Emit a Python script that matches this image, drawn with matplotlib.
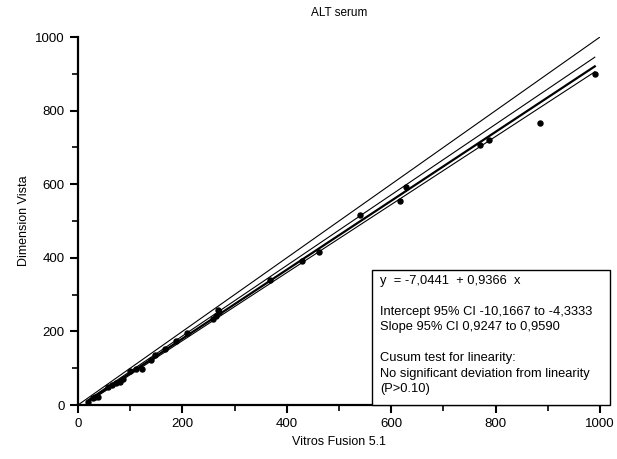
import matplotlib.pyplot as plt
from matplotlib.ticker import MultipleLocator
from matplotlib.patches import Rectangle
import numpy as np

plt.rcParams['font.family'] = ['Liberation Sans', 'DejaVu Sans']

# Vitros Fusion 5.1 vs Dimension Vista (ALT serum)
vitros = [20, 28, 33, 39, 58, 65, 72, 80, 87, 100, 112, 122, 139, 147, 167,
          188, 208, 259, 265, 268, 271, 368, 429, 462, 541, 616, 628, 770,
          787, 885, 990]
vista = [9, 20, 22, 23, 50, 55, 59, 63, 70, 93, 97, 98, 122, 136, 151,
         173, 196, 235, 242, 258, 254, 341, 391, 416, 515, 554, 592, 706,
         720, 765, 899]

intercept = -7.0441
slope = 0.9366
ci_low = (-10.1667, 0.9247)
ci_high = (-4.3333, 0.9590)

legend_txt = ('y  = -7,0441  + 0,9366  x\n\n'
              'Intercept 95% CI -10,1667 to -4,3333\n'
              'Slope 95% CI 0,9247 to 0,9590\n\n'
              'Cusum test for linearity:\n'
              'No significant deviation from linearity\n'
              '(P>0.10)')

fig = plt.figure(figsize=(6.17, 4.59), dpi=100)
ax = fig.add_axes([78/617, 54/459, 522/617, 368/459])

xs = np.array([min(vitros), max(vitros)])
ax.plot([0, 1000], [0, 1000], color='black', lw=0.8)
ax.plot(xs, ci_high[0] + ci_high[1]*xs, color='black', lw=0.8)
ax.plot(xs, ci_low[0] + ci_low[1]*xs, color='black', lw=0.8)
ax.plot(xs, intercept + slope*xs, color='black', lw=1.6)
ax.plot(vitros, vista, 'o', color='black', ms=3.6)

ax.set_xlim(0, 1000)
ax.set_ylim(0, 1000)
ax.xaxis.set_major_locator(MultipleLocator(200))
ax.yaxis.set_major_locator(MultipleLocator(200))
ax.xaxis.set_minor_locator(MultipleLocator(100))
ax.yaxis.set_minor_locator(MultipleLocator(100))
ax.tick_params(which='major', direction='out', length=6, width=1.5, labelsize=9.5)
ax.tick_params(which='minor', direction='out', length=4, width=1.2)
for s in ['top', 'right']:
    ax.spines[s].set_visible(False)
for s in ['left', 'bottom']:
    ax.spines[s].set_linewidth(1.6)

ax.set_title('ALT serum', fontsize=8.5, pad=15)
ax.set_xlabel('Vitros Fusion 5.1', fontsize=9)
ax.set_ylabel('Dimension Vista', fontsize=9)

box = Rectangle((372/617, 54/459), 238/617, 135/459, transform=fig.transFigure,
                facecolor='white', edgecolor='black', lw=1.0, zorder=5)
fig.patches.append(box)
fig.text(380/617, (459 - 275)/459, legend_txt, fontsize=9.3, va='top', ha='left',
         linespacing=1.38, zorder=6)

plt.savefig('out.png', dpi=100)
